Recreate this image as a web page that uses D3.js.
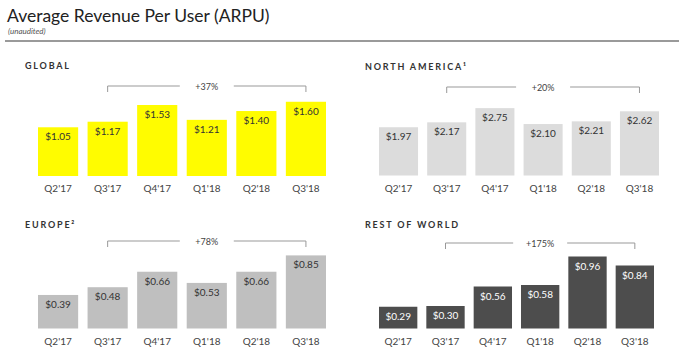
<!DOCTYPE html>
<html>
<head>
<meta charset="utf-8">
<script src="https://cdn.jsdelivr.net/npm/d3@7"></script>
<style>
  html, body { margin: 0; padding: 0; background: #fff; }
  svg { display: block; font-family: Lato, "Open Sans", sans-serif; }
</style>
</head>
<body>
<svg id="chart" width="679" height="357"></svg>
<script>
// ---- Data ----
const quarters = ["Q2'17", "Q3'17", "Q4'17", "Q1'18", "Q2'18", "Q3'18"];
const globalArpu = [1.05, 1.17, 1.53, 1.21, 1.40, 1.60];
const northAmericaArpu = [1.97, 2.17, 2.75, 2.10, 2.21, 2.62];
const europeArpu = [0.39, 0.48, 0.66, 0.53, 0.66, 0.85];
const restOfWorldArpu = [0.29, 0.30, 0.56, 0.58, 0.96, 0.84];
const panelTitles = ["GLOBAL", "NORTH AMERICA\u00B9", "EUROPE\u00B2", "REST OF WORLD"];
const growthLabels = ["+37%", "+20%", "+78%", "+175%"];

// ---- Layout / style (not data) ----
const panels = [
  { title: panelTitles[0], values: globalArpu, growth: growthLabels[0],
    x0: 38, x1: 326, base: 176, pxPerUnit: 46.4, tx: 25, ty: 69, bracketY: 86,
    fill: "#FFFC00", text: "#333" },
  { title: panelTitles[1], values: northAmericaArpu, growth: growthLabels[1],
    x0: 379, x1: 659, base: 175.5, pxPerUnit: 24.5, tx: 365, ty: 70, bracketY: 87,
    fill: "#dcdcdc", text: "#333" },
  { title: panelTitles[2], values: europeArpu, growth: growthLabels[2],
    x0: 38, x1: 326, base: 328.5, pxPerUnit: 86, tx: 25, ty: 228, bracketY: 241,
    fill: "#bfbfbf", text: "#333" },
  { title: panelTitles[3], values: restOfWorldArpu, growth: growthLabels[3],
    x0: 379, x1: 654, base: 328.5, pxPerUnit: 75, tx: 365, ty: 228, bracketY: 243,
    fill: "#4d4d4d", text: "#fff" }
];

const svg = d3.select("#chart");

// Title
svg.append("text").attr("x", 7).attr("y", 22)
  .attr("font-size", 17.5).attr("fill", "#222")
  .text("Average Revenue Per User (ARPU)");
svg.append("text").attr("x", 8).attr("y", 33.5)
  .attr("font-size", 8).attr("font-style", "italic").attr("fill", "#555")
  .text("(unaudited)");
svg.append("line").attr("x1", 5).attr("x2", 679).attr("y1", 41).attr("y2", 41)
  .attr("stroke", "#9a9a9a").attr("stroke-width", 2);

panels.forEach(p => {
  const g = svg.append("g");
  const x = d3.scaleBand().domain(quarters).range([p.x0, p.x1]).paddingInner(0.19).paddingOuter(0);
  const maxV = d3.max(p.values);
  const y = d3.scaleLinear().domain([0, maxV]).range([p.base, p.base - maxV * p.pxPerUnit]);

  // Panel title
  g.append("text").attr("x", p.tx).attr("y", p.ty)
    .attr("font-size", 9).attr("font-weight", "bold").attr("letter-spacing", 1.8)
    .attr("fill", "#333").text(p.title);

  // Bars
  g.selectAll("rect.bar").data(p.values).join("rect")
    .attr("class", "bar")
    .attr("x", (d, i) => x(quarters[i]))
    .attr("width", x.bandwidth())
    .attr("y", d => y(d))
    .attr("height", d => y(0) - y(d))
    .attr("fill", p.fill);

  // Value labels
  g.selectAll("text.val").data(p.values).join("text")
    .attr("class", "val")
    .attr("x", (d, i) => x(quarters[i]) + x.bandwidth() / 2)
    .attr("y", d => y(d) + 13)
    .attr("text-anchor", "middle").attr("font-size", 10).attr("fill", p.text)
    .text(d => "$" + d.toFixed(2));

  // Category axis labels
  const axis = d3.axisBottom(x).tickSize(0).tickPadding(9);
  const ax = g.append("g").attr("transform", `translate(0,${p.base})`).call(axis);
  ax.select(".domain").remove();
  ax.selectAll("text").attr("font-size", 10).attr("fill", "#444")
    .attr("font-family", "Lato, 'Open Sans', sans-serif");

  // Growth bracket from second to last bar center
  const bx0 = x(quarters[1]) + x.bandwidth() / 2;
  const bx1 = x(quarters[quarters.length - 1]) + x.bandwidth() / 2;
  const mid = (bx0 + bx1) / 2;
  const gap = 27;
  const by = p.bracketY, tick = 6;
  const stroke = "#999";
  g.append("path")
    .attr("d", `M${bx0},${by + tick}V${by}H${mid - gap}`)
    .attr("fill", "none").attr("stroke", stroke).attr("stroke-width", 1);
  g.append("path")
    .attr("d", `M${mid + gap},${by}H${bx1}V${by + tick}`)
    .attr("fill", "none").attr("stroke", stroke).attr("stroke-width", 1);
  g.append("text").attr("x", mid).attr("y", by + 3.5)
    .attr("text-anchor", "middle").attr("font-size", 9).attr("fill", "#444")
    .text(p.growth);
});
</script>
</body>
</html>
